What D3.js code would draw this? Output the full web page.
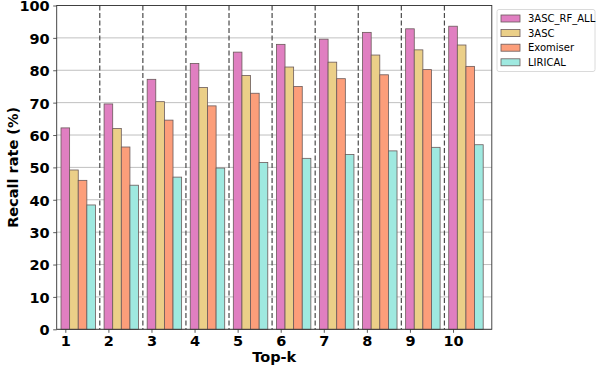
<!DOCTYPE html>
<html>
<head>
<meta charset="utf-8">
<script src="https://cdn.jsdelivr.net/npm/d3@7"></script>
<style>
  body { margin: 0; background: #fff; }
  svg { font-family: "DejaVu Sans", sans-serif; }
</style>
</head>
<body>
<div id="chart"></div>
<script>
const topK = [1, 2, 3, 4, 5, 6, 7, 8, 9, 10];
const methods = ["3ASC_RF_ALL", "3ASC", "Exomiser", "LIRICAL"];
const rfAll    = [62.2, 69.6, 77.2, 82.1, 85.6, 88.0, 89.6, 91.7, 92.8, 93.6];
const asc      = [49.2, 62.0, 70.3, 74.7, 78.4, 81.0, 82.5, 84.7, 86.3, 87.8];
const exomiser = [46.0, 56.3, 64.6, 69.0, 72.9, 75.0, 77.4, 78.6, 80.2, 81.2];
const lirical  = [38.4, 44.5, 47.0, 49.8, 51.5, 52.8, 54.0, 55.1, 56.2, 57.0];
const yTicks = [0, 10, 20, 30, 40, 50, 60, 70, 80, 90, 100];

const series = [rfAll, asc, exomiser, lirical];
const colors = ["#e07fc1", "#ebcf88", "#fc9e7a", "#9fe9e0"];

const width = 597, height = 368;
const mLeft = 56.7, mRight = 491.8, mTop = 5.5, mBottom = 329.3;
const barW = 0.2;

const svg = d3.select("#chart")
  .append("svg")
  .attr("width", width)
  .attr("height", height);

const x = d3.scaleLinear().domain([0.8, 10.9]).range([mLeft, mRight]);
const y = d3.scaleLinear().domain([0, 100]).range([mBottom, mTop]);

// horizontal grid
svg.append("g")
  .selectAll("line")
  .data(yTicks)
  .join("line")
  .attr("x1", mLeft).attr("x2", mRight)
  .attr("y1", d => y(d)).attr("y2", d => y(d))
  .attr("stroke", "#b0b0b0")
  .attr("stroke-width", 0.8);

// dashed separators between groups
svg.append("g")
  .selectAll("line")
  .data(topK.slice(0, -1))
  .join("line")
  .attr("x1", d => x(d + 0.8)).attr("x2", d => x(d + 0.8))
  .attr("y1", mTop).attr("y2", mBottom)
  .attr("stroke", "#4a4a4a")
  .attr("stroke-width", 1.2)
  .attr("stroke-dasharray", "5,2.5");

// bars
series.forEach((vals, si) => {
  svg.append("g")
    .selectAll("rect")
    .data(vals)
    .join("rect")
    .attr("x", (d, i) => x(topK[i] + si * barW - barW / 2))
    .attr("width", x(barW) - x(0))
    .attr("y", d => y(d))
    .attr("height", d => y(0) - y(d))
    .attr("fill", colors[si])
    .attr("stroke", "#6a5a5a")
    .attr("stroke-width", 0.8);
});

// axes
const yAxis = svg.append("g")
  .attr("transform", `translate(${mLeft},0)`)
  .call(d3.axisLeft(y).tickValues(yTicks).tickSize(3.5).tickPadding(3.5));
const xAxis = svg.append("g")
  .attr("transform", `translate(0,${mBottom})`)
  .call(d3.axisBottom(x).tickValues(topK).tickFormat(d3.format("d")).tickSize(3.5).tickPadding(3));

[yAxis, xAxis].forEach(g => {
  g.select(".domain").remove();
  g.selectAll("line").attr("stroke", "#333").attr("stroke-width", 0.8);
  g.selectAll("text")
    .attr("fill", "#000")
    .style("font-family", "DejaVu Sans")
    .style("font-weight", "bold")
    .style("font-size", "14.5px");
});
yAxis.selectAll("text").attr("dy", "0.37em");

// frame
svg.append("rect")
  .attr("x", mLeft).attr("y", mTop)
  .attr("width", mRight - mLeft).attr("height", mBottom - mTop)
  .attr("fill", "none")
  .attr("stroke", "#333")
  .attr("stroke-width", 0.9);

// axis labels
svg.append("text")
  .attr("x", (mLeft + mRight) / 2)
  .attr("y", 362)
  .attr("text-anchor", "middle")
  .style("font-weight", "bold")
  .style("font-size", "14.5px")
  .text("Top-k");

svg.append("text")
  .attr("transform", `translate(18,${(mTop + mBottom) / 2}) rotate(-90)`)
  .attr("text-anchor", "middle")
  .style("font-weight", "bold")
  .style("font-size", "14.5px")
  .text("Recall rate (%)");

// legend
const lg = svg.append("g").attr("transform", "translate(497,9.5)");
lg.append("rect")
  .attr("width", 98).attr("height", 62)
  .attr("rx", 2)
  .attr("fill", "#fff")
  .attr("stroke", "#d0d0d0")
  .attr("stroke-width", 0.8);
const items = lg.selectAll("g.item")
  .data(methods)
  .join("g")
  .attr("class", "item")
  .attr("transform", (d, i) => `translate(4,${9 + i * 14.6})`);
items.append("rect")
  .attr("x", 0).attr("y", -3.5)
  .attr("width", 19).attr("height", 7)
  .attr("fill", (d, i) => colors[i])
  .attr("stroke", "#6a5a5a")
  .attr("stroke-width", 0.8);
items.append("text")
  .attr("x", 27).attr("y", 3.6)
  .style("font-size", "10px")
  .text(d => d);
</script>
</body>
</html>
